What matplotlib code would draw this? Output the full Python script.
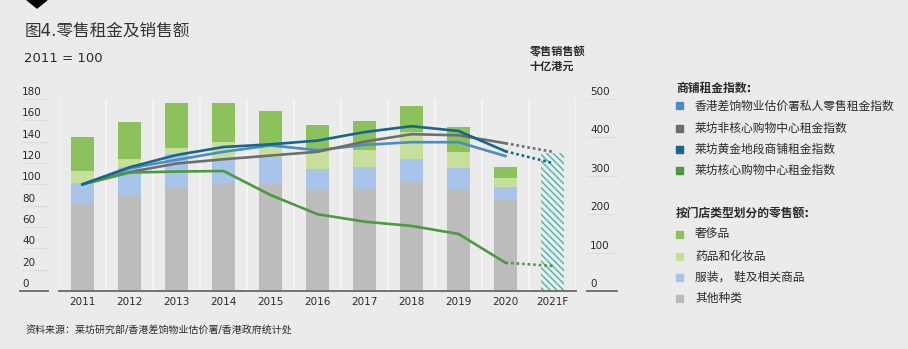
import numpy as np
import matplotlib
matplotlib.use("Agg")
import matplotlib.pyplot as plt
from matplotlib.patches import Rectangle, Polygon
from matplotlib.transforms import blended_transform_factory, offset_copy

plt.rcParams['font.family'] = ['DejaVu Sans', 'Noto Sans CJK SC']
plt.rcParams['hatch.linewidth'] = 1.1

# 数据
years = ['2011', '2012', '2013', '2014', '2015', '2016', '2017', '2018', '2019', '2020', '2021F']
# 零售额 (十亿港元), 2011-2020
other = [227, 250, 269, 280, 282, 263, 266, 283, 265, 240]
apparel = [55, 72, 88, 61, 66, 56, 56, 62, 55, 31]
cosmetics = [31, 22, 15, 48, 30, 50, 45, 69, 43, 23]
luxury = [89, 96, 117, 100, 91, 62, 75, 67, 65, 29]
forecast_sales = 360  # 2021F

# 租金指数 (2011 = 100)
rvd_index = [100, 115, 123, 130.5, 136.5, 132, 137, 139.5, 139.5, 126.5]
noncore_index = [100, 111.5, 119.5, 123.5, 127, 130.5, 140, 147, 146, 138.5]
prime_index = [100, 116, 127.5, 135, 137.5, 141, 149, 154.5, 150, 131]
core_index = [100, 111, 112, 112.5, 90, 72, 65, 61, 53.5, 26.5]
noncore_2021f = 130.5
prime_2021f = 120
core_2021f = 23.5

left_ticks = [0, 20, 40, 60, 80, 100, 120, 140, 160, 180]
right_ticks = [0, 100, 200, 300, 400, 500]

W, H = 908, 349
bg = '#ebebeb'
c_lux = '#8cc25b'
c_cos = '#c6e09c'
c_app = '#a9c4ea'
c_oth = '#bcbcbc'
c_rvd = '#4b8cc6'
c_noncore = '#6e6e6e'
c_prime = '#17668f'
c_core = '#4b9a3f'
c_hatch = '#5fb3ab'
txt = '#2a2a2a'


def fx(x):
    return x / W


def fy(y):
    return 1 - y / H


fig = plt.figure(figsize=(W / 100, H / 100), dpi=100, facecolor=bg)

ax_bar = fig.add_axes([fx(59), fy(291), fx(576 - 59), (291 - 99) / H])
ax_bar.set_facecolor('none')
ax_line = ax_bar.twinx()

x = np.arange(len(other))

# 分隔线
for i in range(-1, 11):
    ax_bar.axvline(i + 0.5, color='#f7f7f7', lw=1.2, zorder=0)

# 堆叠柱
bw = 0.5
b1 = np.array(other)
b2 = b1 + np.array(apparel)
b3 = b2 + np.array(cosmetics)
ax_bar.bar(x, other, bw, color=c_oth, zorder=2)
ax_bar.bar(x, apparel, bw, bottom=b1, color=c_app, zorder=2)
ax_bar.bar(x, cosmetics, bw, bottom=b2, color=c_cos, zorder=2)
ax_bar.bar(x, luxury, bw, bottom=b3, color=c_lux, zorder=2)
ax_bar.bar([10], [forecast_sales], bw, color='#e6f2f0', edgecolor=c_hatch,
           hatch='\\\\\\\\\\', linewidth=0, zorder=2)

ax_bar.set_xlim(-0.5, 10.5)
ax_bar.set_ylim(0, 500)
ax_bar.set_yticks([])
ax_bar.set_xticks(range(len(years)), years)
ax_bar.tick_params(axis='x', length=0, pad=4, labelsize=7.5, colors=txt)
for s in ['top', 'left', 'right']:
    ax_bar.spines[s].set_visible(False)
ax_bar.spines['bottom'].set_color('#6a6a6a')
ax_bar.spines['bottom'].set_linewidth(1.3)

# 折线
lw = 1.9
ax_line.plot(x, rvd_index, color=c_rvd, lw=lw, zorder=3)
ax_line.plot(x, noncore_index, color=c_noncore, lw=lw, zorder=3)
ax_line.plot(x, prime_index, color=c_prime, lw=lw, zorder=4)
ax_line.plot(x, core_index, color=c_core, lw=lw, zorder=3)
dots = (0, (1, 1.1))
ax_line.plot([9, 10], [noncore_index[-1], noncore_2021f], color=c_noncore, lw=lw, ls=dots)
ax_line.plot([9, 10], [prime_index[-1], prime_2021f], color=c_prime, lw=lw, ls=dots)
ax_line.plot([9, 10], [core_index[-1], core_2021f], color=c_core, lw=lw, ls=dots)
ax_line.set_ylim(0, 180)
ax_line.set_yticks([])
for s in ax_line.spines.values():
    s.set_visible(False)

# 左轴刻度
tl = blended_transform_factory(fig.transFigure, ax_line.transData)
tl_up = offset_copy(tl, fig=fig, y=7, units='dots')
for v in left_ticks:
    ax_line.text(fx(22), v, str(v), transform=tl_up, ha='left', va='center',
                 fontsize=7.5, color=txt, clip_on=False)
    if v == 0:
        ax_line.plot([fx(20), fx(48)], [v, v], transform=tl, color='#6a6a6a',
                     lw=1.3, clip_on=False)
    else:
        ax_line.plot([fx(22), fx(48)], [v, v], transform=tl, color='#d2d2d2',
                     lw=0.8, ls=(0, (1, 1)), clip_on=False)

# 右轴刻度
tr = blended_transform_factory(fig.transFigure, ax_bar.transData)
tr_up = offset_copy(tr, fig=fig, y=7, units='dots')
for v in right_ticks:
    ax_bar.text(fx(590), v, str(v), transform=tr_up, ha='left', va='center',
                fontsize=7.5, color=txt, clip_on=False)
    if v == 0:
        ax_bar.plot([fx(587), fx(617)], [v, v], transform=tr, color='#6a6a6a',
                    lw=1.3, clip_on=False)
    else:
        ax_bar.plot([fx(587), fx(617)], [v, v], transform=tr, color='#d2d2d2',
                    lw=0.8, ls=(0, (1, 1)), clip_on=False)

# 标题
fig.patches.append(Polygon([[fx(27), fy(0)], [fx(47), fy(0)], [fx(37), fy(8)]],
                           closed=True, color='black', transform=fig.transFigure))
fig.text(fx(25), fy(31), '图4.零售租金及销售额', fontsize=12, color='#333333',
         ha='left', va='center')
fig.text(fx(24), fy(58), '2011 = 100', fontsize=9.5, color=txt, ha='left', va='center')
fig.text(fx(530), fy(52), '零售销售额', fontsize=8, fontweight='bold', color=txt,
         ha='left', va='center')
fig.text(fx(530), fy(67), '十亿港元', fontsize=8, fontweight='bold', color=txt,
         ha='left', va='center')

# 图例
legend_groups = [
    ('商铺租金指数:', 88, [
        (c_rvd, '香港差饷物业估价署私人零售租金指数', 106),
        (c_noncore, '莱坊非核心购物中心租金指数', 128),
        (c_prime, '莱坊黄金地段商铺租金指数', 149),
        (c_core, '莱坊核心购物中心租金指数', 170),
    ]),
    ('按门店类型划分的零售额:', 213, [
        (c_lux, '奢侈品', 234),
        (c_cos, '药品和化妆品', 256),
        (c_app, '服装， 鞋及相关商品', 277),
        (c_oth, '其他种类', 298),
    ]),
]
for title, ty, items in legend_groups:
    fig.text(fx(676), fy(ty), title, fontsize=8.5, fontweight='bold', color=txt,
             ha='left', va='center')
    for col, label, iy in items:
        fig.patches.append(Rectangle((fx(676), fy(iy + 3.5)), 7 / W, 7 / H,
                                     color=col, transform=fig.transFigure))
        fig.text(fx(695), fy(iy), label, fontsize=8.5, color=txt, ha='left', va='center')

fig.text(fx(26), fy(330), '资料来源：莱坊研究部/香港差饷物业估价署/香港政府统计处',
         fontsize=7.2, color=txt, ha='left', va='center')

fig.savefig('out.png', dpi=100, facecolor=bg)
